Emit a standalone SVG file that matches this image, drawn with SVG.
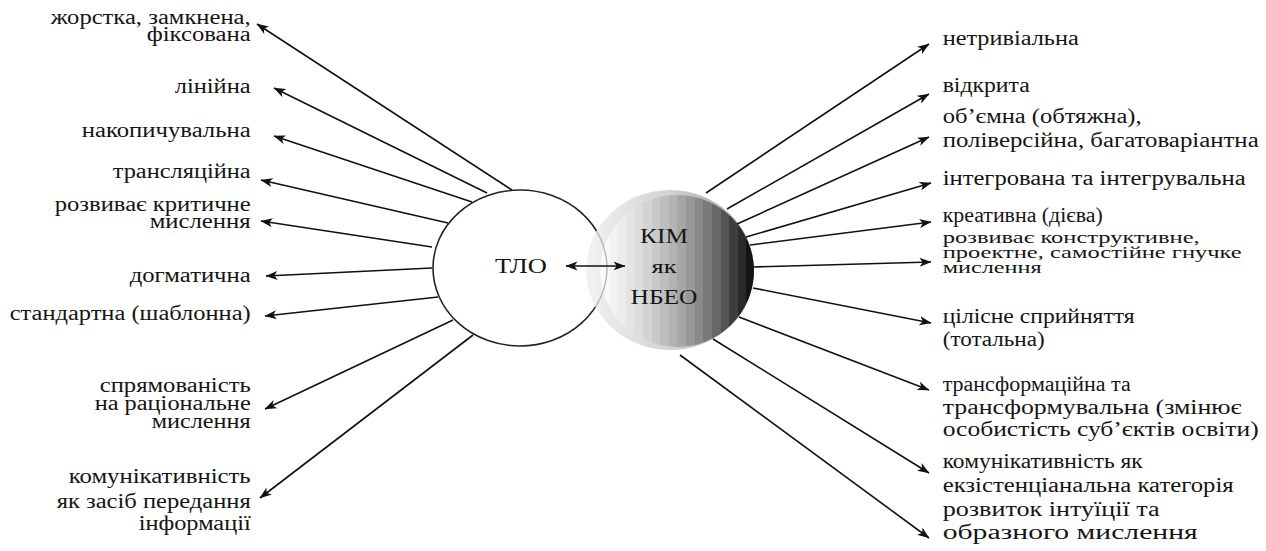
<svg xmlns="http://www.w3.org/2000/svg" width="1266" height="551" viewBox="0 0 1266 551">
<style>
.lbl{font-family:"Liberation Serif","Times New Roman",serif;font-size:20px;fill:#151515}
.sm{font-size:17.5px}
.l{text-anchor:end}
.c{font-family:"Liberation Serif","Times New Roman",serif;fill:#151515}
.con line{stroke:#111;stroke-width:1.6;marker-end:url(#ah)}
</style>
<defs>
<marker id="ah" viewBox="0 0 12 10" refX="11.5" refY="5" markerWidth="12" markerHeight="10" markerUnits="userSpaceOnUse" orient="auto-start-reverse">
<path d="M0,0.5 L12,5 L0,9.5 L3.2,5 z" fill="#111"/>
</marker>
<linearGradient id="rim" x1="0" y1="0" x2="1" y2="0">
<stop offset="0" stop-color="#f2f2f2"/>
<stop offset="0.5" stop-color="#d2d2d2"/>
<stop offset="1" stop-color="#9a9a9a"/>
</linearGradient>
<linearGradient id="body" gradientUnits="userSpaceOnUse" x1="600" y1="0" x2="755" y2="0">
<stop offset="0" stop-color="#f8f8f8"/><stop offset="0.0556" stop-color="#f8f8f8"/>
<stop offset="0.0556" stop-color="#f3f3f3"/><stop offset="0.1111" stop-color="#f3f3f3"/>
<stop offset="0.1111" stop-color="#ececec"/><stop offset="0.1667" stop-color="#ececec"/>
<stop offset="0.1667" stop-color="#e4e4e4"/><stop offset="0.2222" stop-color="#e4e4e4"/>
<stop offset="0.2222" stop-color="#dcdcdc"/><stop offset="0.2778" stop-color="#dcdcdc"/>
<stop offset="0.2778" stop-color="#d3d3d3"/><stop offset="0.3333" stop-color="#d3d3d3"/>
<stop offset="0.3333" stop-color="#c9c9c9"/><stop offset="0.3889" stop-color="#c9c9c9"/>
<stop offset="0.3889" stop-color="#bebebe"/><stop offset="0.4444" stop-color="#bebebe"/>
<stop offset="0.4444" stop-color="#b3b3b3"/><stop offset="0.5" stop-color="#b3b3b3"/>
<stop offset="0.5" stop-color="#a6a6a6"/><stop offset="0.5556" stop-color="#a6a6a6"/>
<stop offset="0.5556" stop-color="#989898"/><stop offset="0.6111" stop-color="#989898"/>
<stop offset="0.6111" stop-color="#8a8a8a"/><stop offset="0.6667" stop-color="#8a8a8a"/>
<stop offset="0.6667" stop-color="#7a7a7a"/><stop offset="0.7222" stop-color="#7a7a7a"/>
<stop offset="0.7222" stop-color="#686868"/><stop offset="0.7778" stop-color="#686868"/>
<stop offset="0.7778" stop-color="#545454"/><stop offset="0.8333" stop-color="#545454"/>
<stop offset="0.8333" stop-color="#3e3e3e"/><stop offset="0.8889" stop-color="#3e3e3e"/>
<stop offset="0.8889" stop-color="#2a2a2a"/><stop offset="0.9444" stop-color="#2a2a2a"/>
<stop offset="0.9444" stop-color="#141414"/><stop offset="1" stop-color="#141414"/>
</linearGradient>
<clipPath id="sphClip"><ellipse cx="670" cy="270" rx="84" ry="80"/></clipPath>
</defs>

<g id="node-tlo">
<ellipse cx="520" cy="268" rx="87" ry="78" fill="#fff" stroke="#222" stroke-width="1.6"/>
</g>

<g id="node-kim">
<ellipse cx="670" cy="270" rx="84" ry="80" fill="url(#rim)"/>
<ellipse cx="677" cy="271" rx="77" ry="76" fill="url(#body)"/>
<ellipse cx="520" cy="268" rx="87" ry="78" fill="none" stroke="#b4b4b4" stroke-width="1.4" clip-path="url(#sphClip)"/>
</g>

<g id="texts-center">
<text class="c" x="521" y="273" font-size="21" text-anchor="middle" textLength="52" lengthAdjust="spacingAndGlyphs">ТЛО</text>
<text class="c" x="664" y="243" font-size="22" text-anchor="middle" textLength="48" lengthAdjust="spacingAndGlyphs">КІМ</text>
<text class="c" x="664" y="273" font-size="18" text-anchor="middle" textLength="25" lengthAdjust="spacingAndGlyphs">як</text>
<text class="c" x="664" y="304" font-size="22" text-anchor="middle" textLength="67" lengthAdjust="spacingAndGlyphs">НБЕО</text>
</g>

<g id="connectors" class="con">
<line x1="566" y1="266" x2="625" y2="266" marker-start="url(#ah)"/>
<line x1="512" y1="190" x2="257" y2="24"/>
<line x1="487" y1="193" x2="274" y2="88"/>
<line x1="472" y1="202" x2="274" y2="136"/>
<line x1="448" y1="223" x2="261" y2="180"/>
<line x1="432" y1="247" x2="261" y2="221"/>
<line x1="432" y1="268" x2="266" y2="276"/>
<line x1="438" y1="297" x2="265" y2="316"/>
<line x1="453" y1="320" x2="265" y2="409"/>
<line x1="473" y1="335" x2="260" y2="498"/>
<line x1="706" y1="193" x2="929" y2="44"/>
<line x1="727" y1="209" x2="929" y2="94"/>
<line x1="737" y1="224" x2="929" y2="137"/>
<line x1="746" y1="237" x2="931" y2="183"/>
<line x1="750" y1="245" x2="931" y2="222"/>
<line x1="752" y1="267" x2="931" y2="262"/>
<line x1="753" y1="288" x2="931" y2="323"/>
<line x1="739" y1="317" x2="929" y2="390"/>
<line x1="713" y1="339" x2="929" y2="473"/>
<line x1="680" y1="355" x2="929" y2="538"/>
</g>

<g id="labels-left">
<text class="lbl l" x="250.7" y="24" textLength="200" lengthAdjust="spacingAndGlyphs">жорстка, замкнена,</text>
<text class="lbl l" x="250.7" y="41" textLength="104" lengthAdjust="spacingAndGlyphs">фіксована</text>
<text class="lbl l" x="250.7" y="93" textLength="76" lengthAdjust="spacingAndGlyphs">лінійна</text>
<text class="lbl l" x="250.7" y="137" textLength="169" lengthAdjust="spacingAndGlyphs">накопичувальна</text>
<text class="lbl l" x="250.7" y="178" textLength="138" lengthAdjust="spacingAndGlyphs">трансляційна</text>
<text class="lbl l" x="250.7" y="211" textLength="196" lengthAdjust="spacingAndGlyphs">розвиває критичне</text>
<text class="lbl l" x="250.7" y="228" textLength="101" lengthAdjust="spacingAndGlyphs">мислення</text>
<text class="lbl l" x="250.7" y="282" textLength="121" lengthAdjust="spacingAndGlyphs">догматична</text>
<text class="lbl l" x="250.7" y="320" textLength="241" lengthAdjust="spacingAndGlyphs">стандартна (шаблонна)</text>
<text class="lbl l" x="250.7" y="392" textLength="151" lengthAdjust="spacingAndGlyphs">спрямованість</text>
<text class="lbl l" x="250.7" y="410" textLength="156" lengthAdjust="spacingAndGlyphs">на раціональне</text>
<text class="lbl l" x="250.7" y="428" textLength="99" lengthAdjust="spacingAndGlyphs">мислення</text>
<text class="lbl l" x="250.7" y="483" textLength="182" lengthAdjust="spacingAndGlyphs">комунікативність</text>
<text class="lbl l" x="250.7" y="508" textLength="194" lengthAdjust="spacingAndGlyphs">як засіб передання</text>
<text class="lbl l" x="250.7" y="530" textLength="112" lengthAdjust="spacingAndGlyphs">інформації</text>
</g>

<g id="labels-right">
<text class="lbl" x="942.7" y="45" textLength="136" lengthAdjust="spacingAndGlyphs">нетривіальна</text>
<text class="lbl" x="942.7" y="92" textLength="87" lengthAdjust="spacingAndGlyphs">відкрита</text>
<text class="lbl" x="942.7" y="123" textLength="199" lengthAdjust="spacingAndGlyphs">об’ємна (обтяжна),</text>
<text class="lbl" x="942.7" y="147" textLength="316" lengthAdjust="spacingAndGlyphs">полiверсійна, багатоваріантна</text>
<text class="lbl" x="942.7" y="185" textLength="303" lengthAdjust="spacingAndGlyphs">інтегрована та інтегрувальна</text>
<text class="lbl" x="942.7" y="222" textLength="160" lengthAdjust="spacingAndGlyphs">креативна (дієва)</text>
<text class="lbl sm" x="942.7" y="243" textLength="257" lengthAdjust="spacingAndGlyphs">розвиває конструктивне,</text>
<text class="lbl sm" x="942.7" y="258" textLength="299" lengthAdjust="spacingAndGlyphs">проектне, самостійне гнучке</text>
<text class="lbl sm" x="942.7" y="273" textLength="99" lengthAdjust="spacingAndGlyphs">мислення</text>
<text class="lbl" x="942.7" y="323" textLength="192" lengthAdjust="spacingAndGlyphs">цілісне сприйняття</text>
<text class="lbl" x="942.7" y="346" textLength="102" lengthAdjust="spacingAndGlyphs">(тотальна)</text>
<text class="lbl" x="942.7" y="391" textLength="188" lengthAdjust="spacingAndGlyphs">трансформаційна та</text>
<text class="lbl" x="942.7" y="414" textLength="299" lengthAdjust="spacingAndGlyphs">трансформувальна (змінює</text>
<text class="lbl" x="942.7" y="436" textLength="316" lengthAdjust="spacingAndGlyphs">особистість суб’єктів освіти)</text>
<text class="lbl" x="942.7" y="468" textLength="200" lengthAdjust="spacingAndGlyphs">комунікативність як</text>
<text class="lbl" x="942.7" y="492" textLength="291" lengthAdjust="spacingAndGlyphs">екзістенціанальна категорія</text>
<text class="lbl" x="942.7" y="516" textLength="217" lengthAdjust="spacingAndGlyphs">розвиток інтуїції та</text>
<text class="lbl" x="942.7" y="539" textLength="255" lengthAdjust="spacingAndGlyphs">образного мислення</text>
</g>
</svg>
